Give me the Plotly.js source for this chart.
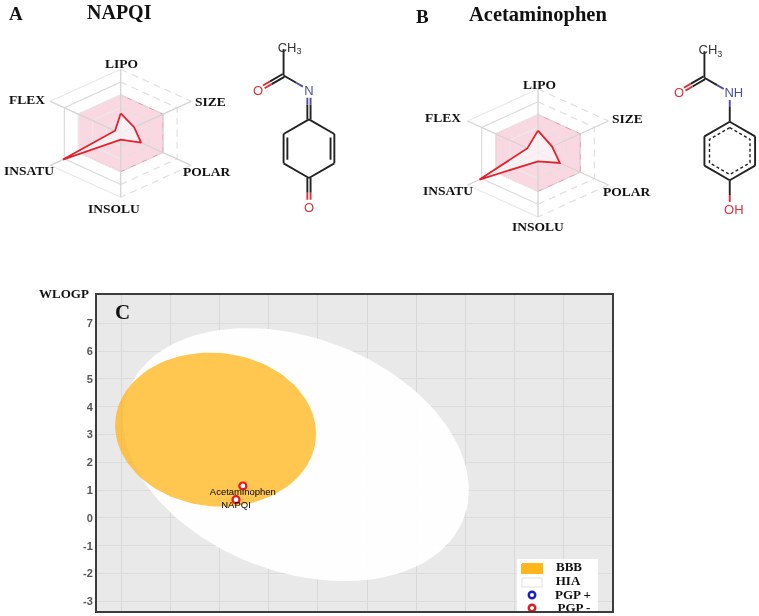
<!DOCTYPE html>
<html>
<head>
<meta charset="utf-8">
<script src="https://cdn.plot.ly/plotly-3.0.1.min.js"></script>
<style>html,body{margin:0;padding:0;background:#fff}#chart{width:759px;height:616px;filter:blur(0.45px)}</style>
</head>
<body>
<div id="chart"></div>
<script>
// ---------- data ----------
const radarAxes = ['LIPO','SIZE','POLAR','INSOLU','INSATU','FLEX'];
const napqiRadar = [0.31,0.19,0.29,0.10,0.82,0.08];
const acetaminophenRadar = [0.35,0.20,0.31,0.13,0.83,0.15];
const radarOptimal = 0.6;
const radarRings = [0.2,0.4,0.6,0.8,1];

const moleculeNames = ['NAPQI','Acetaminophen'];
const tpsa = [46.53,49.33];
const wlogp = [0.66,1.15];
const yTicks = [-3,-2,-1,0,1,2,3,4,5,6,7];
const yTickLabels = ['-3','-2','-1','0','1','2','3','4','5','6','7'];
const xGrid = [0,20,40,60,80,100,120,140,160,180];
// ellipse: centre x, centre y, half extent x, half extent y, correlation
const hiaEllipse = [71,2.28,70.6,4.55,-0.28];
const bbbEllipse = [38.2,3.18,41,2.77,-0.055];
const legendNames = ['BBB','HIA','PGP +','PGP -'];

// ---------- helpers ----------
const W = 759, H = 616;
const SERIF = 'Liberation Serif', SANS = 'Liberation Sans';
const xDom = (a,b)=>[a/W,b/W], yDom = (a,b)=>[1-b/H,1-a/H];
const traces = [], annotations = [];
function note(text,px,py,size,opt={}){
  annotations.push(Object.assign({text,x:px/W,y:1-py/H,xref:'paper',yref:'paper',showarrow:false,
    xanchor:'center',yanchor:'middle',font:{family:SERIF,size,color:'#111',weight:700}},opt));
}
function ellipse(p){
  const xs=[],ys=[],phi=Math.acos(p[4]);
  for(let i=0;i<=120;i++){const t=i/120*2*Math.PI;
    xs.push(p[0]+p[2]*Math.cos(t)); ys.push(p[1]+p[3]*Math.cos(t+phi));}
  return {xs,ys};
}
const angle = i => i*Math.PI/3;
const rx = (i,v)=>v*Math.sin(angle(i)), ry = (i,v)=>v*Math.cos(angle(i));

function radar(values,xa,ya){
  const add=(xs,ys,line,extra={})=>traces.push(Object.assign({type:'scatter',mode:'lines',x:xs,y:ys,xaxis:xa,yaxis:ya,line,hoverinfo:'skip'},extra));
  const band=[0,1,2,3,4,5,0];
  add(band.map(i=>rx(i,radarOptimal)),band.map(i=>ry(i,radarOptimal)),{color:'rgba(222,120,145,.75)',width:1},{fill:'toself',fillcolor:'rgba(238,110,145,.27)'});
  radarRings.forEach(r=>{
    const solid=[3,4,5,0], dash=[0,1,2,3];
    const soldX=[],soldY=[],dashX=[],dashY=[];
    solid.forEach((i,k)=>{ if(r===1&&k===2){soldX.push(null);soldY.push(null);} soldX.push(rx(i,r));soldY.push(ry(i,r)); });
    dash.forEach((i,k)=>{ if(r===1&&k===2){dashX.push(null);dashY.push(null);} dashX.push(rx(i,r));dashY.push(ry(i,r)); });
    add(soldX,soldY,{color:r===0.8?'#dcdcdc':'#e9e9e9',width:1.2},{connectgaps:false});
    add(dashX,dashY,{color:'#e0e0e0',width:1.2,dash:'7px,5px'},{connectgaps:false});
  });
  radarAxes.forEach((_,i)=>add([0,rx(i,1)],[0,ry(i,1)],{color:'#d4d4d4',width:1.3}));
  const loop=[0,1,2,3,4,5,0];
  add(loop.map(i=>rx(i,values[i])),loop.map(i=>ry(i,values[i])),{color:'#e5202c',width:1.8},{fill:'toself',fillcolor:'rgba(255,255,255,.62)'});
}

function molecule(atoms,bonds,dashed,xa,ya){
  const seg={ '#222222':[[],[]], '#d8323c':[[],[]], '#4d4da0':[[],[]] };
  const put=(c,p,q)=>{seg[c][0].push(p[0],q[0],null);seg[c][1].push(p[1],q[1],null);};
  bonds.forEach(b=>{
    const [a,e,ca,ce,off,ta,te]=b;
    const A=atoms[a],E=atoms[e],dx=E[0]-A[0],dy=E[1]-A[1],L=Math.hypot(dx,dy);
    const nx=-dy/L*off,ny=dx/L*off;
    const P=t=>[A[0]+dx*t+nx,A[1]+dy*t+ny];
    const s=ta||0,f=te===undefined?1:te;
    if(ca===ce) put(ca,P(s),P(f));
    else {put(ca,P(s),P(.5));put(ce,P(.5),P(f));}
  });
  Object.keys(seg).forEach(c=>traces.push({type:'scatter',mode:'lines',x:seg[c][0],y:seg[c][1],xaxis:xa,yaxis:ya,line:{color:c,width:1.9},hoverinfo:'skip'}));
  if(dashed) traces.push({type:'scatter',mode:'lines',x:dashed[0],y:dashed[1],xaxis:xa,yaxis:ya,line:{color:'#222222',width:1.4,dash:'3px,2.5px'},hoverinfo:'skip'});
}
function atomText(items,xa,ya){
  traces.push({type:'scatter',mode:'text',x:items.map(d=>d[1]),y:items.map(d=>d[2]),text:items.map(d=>d[0]),xaxis:xa,yaxis:ya,
    textposition:'middle center',textfont:{family:SANS,size:13,color:items.map(d=>d[3])},hoverinfo:'skip'});
}

// ---------- panel C ----------
const hia=ellipse(hiaEllipse), bbb=ellipse(bbbEllipse);
traces.push({type:'scatter',mode:'lines',name:'HIA',x:hia.xs,y:hia.ys,fill:'toself',fillcolor:'rgba(255,255,255,.93)',line:{width:0},hoverinfo:'skip'});
traces.push({type:'scatter',mode:'lines',name:'BBB',x:bbb.xs,y:bbb.ys,fill:'toself',fillcolor:'rgba(255,180,20,.75)',line:{width:0},hoverinfo:'skip'});
traces.push({type:'scatter',mode:'markers',name:'PGP -',x:tpsa,y:wlogp,marker:{size:7,color:'#fff',line:{color:'#e8141e',width:2.2}},cliponaxis:false,hoverinfo:'skip'});
traces.push({type:'scatter',mode:'text',x:tpsa,y:wlogp.map(v=>v-0.22),text:moleculeNames,textposition:'middle center',
  textfont:{family:SANS,size:9.5,color:'#000'},hoverinfo:'skip'});

// ---------- panels A and B radars ----------
radar(napqiRadar,'x2','y2');
radar(acetaminophenRadar,'x3','y3');

// ---------- molecules (positions in bond lengths around the ring centre) ----------
const K='#222222',R='#d8323c',N='#4d4da0';
const ring={r1:[0,1],r2:[.866,.5],r3:[.866,-.5],r4:[0,-1],r5:[-.866,-.5],r6:[-.866,.5]};
const chain={Me:[-.866,3.45],C1:[-.866,2.5],O1:[-1.732,2],N1:[0,2],O2:[0,-2]};
const atoms=Object.assign({},ring,chain);
const sideBonds=(ringExtra)=>[
  ['Me','C1',K,K,0,0.05],
  ['C1','O1',K,R,.055,0,.78],['C1','O1',K,R,-.055,0,.78],
  ['C1','N1',K,N,0,0,.76],
  ['r1','r2',K,K,0],['r2','r3',K,K,0],['r3','r4',K,K,0],['r4','r5',K,K,0],['r5','r6',K,K,0],['r6','r1',K,K,0]
].concat(ringExtra);
const bondsA=sideBonds([
  ['r1','N1',K,N,.055,0,.74],['r1','N1',K,N,-.055,0,.74],
  ['r2','r3',K,K,-.13,.12,.88],['r5','r6',K,K,-.13,.12,.88],
  ['r4','O2',K,R,.055,0,.74],['r4','O2',K,R,-.055,0,.74]
]);
const bondsB=sideBonds([
  ['r1','N1',K,N,0,0,.74],
  ['r4','O2',K,R,0,0,.74]
]);
const dashHex=[0,1,2,3,4,5,0].map(i=>[.80*Math.sin(angle(i)),.80*Math.cos(angle(i))]);
molecule(atoms,bondsA,null,'x4','y4');
molecule(atoms,bondsB,[dashHex.map(p=>p[0]),dashHex.map(p=>p[1])],'x5','y5');
atomText([['CH<sub>3</sub>',-.66,3.42,'#333'],['O',-1.732,1.95,R],['N',0,1.95,N],['O',0,-2.04,R]],'x4','y4');
atomText([['CH<sub>3</sub>',-.66,3.42,'#333'],['O',-1.732,1.95,R],['NH',.14,1.97,N],['OH',.14,-2.05,R]],'x5','y5');

// ---------- legend box, in its own small axes so the last row clips at the frame ----------
const lx='x6', ly='y6';
const box=(x0,x1,y0,y1)=>({x:[x0,x1,x1,x0,x0],y:[y0,y0,y1,y1,y0]});
traces.push(Object.assign(box(0,81,0,52),{type:'scatter',mode:'lines',xaxis:lx,yaxis:ly,fill:'toself',fillcolor:'#fff',line:{width:0},hoverinfo:'skip'}));
traces.push(Object.assign(box(5,25,5,14),{type:'scatter',mode:'lines',xaxis:lx,yaxis:ly,fill:'toself',fillcolor:'#fdb71a',line:{color:'#fdb71a',width:2},hoverinfo:'skip'}));
traces.push(Object.assign(box(5,25,19,28),{type:'scatter',mode:'lines',xaxis:lx,yaxis:ly,fill:'toself',fillcolor:'#fff',line:{color:'#eaeaea',width:1.5},hoverinfo:'skip'}));
traces.push({type:'scatter',mode:'markers',x:[15],y:[36],xaxis:lx,yaxis:ly,marker:{size:6.5,color:'#fff',line:{color:'#1a1ad0',width:2.4}},hoverinfo:'skip'});
traces.push({type:'scatter',mode:'markers',x:[15],y:[49],xaxis:lx,yaxis:ly,marker:{size:6.5,color:'#fff',line:{color:'#e8141e',width:2.4}},hoverinfo:'skip'});
traces.push({type:'scatter',mode:'text',x:[52,51,56,57],y:[8.5,22.5,37,50],text:legendNames,xaxis:lx,yaxis:ly,textposition:'middle center',
  textfont:{family:SERIF,size:13,color:'#111',weight:700},hoverinfo:'skip',cliponaxis:true});

// ---------- text ----------
note('A',16,14,19); note('NAPQI',119.5,12.5,20);
note('B',422.7,16.5,19); note('Acetaminophen',537.5,15,20.5);
note('C',122,312,21); note('WLOGP',64,293,13);
const labelsA=[[121.7,63],[210.7,101.7],[207,171],[114.3,208],[29.3,170],[27.3,99.3]];
const labelsB=[[539.3,84],[627.7,119],[627,191.7],[538.3,226.7],[447.7,190.3],[443.3,117]];
radarAxes.forEach((t,i)=>{note(t,labelsA[i][0],labelsA[i][1],13.5);note(t,labelsB[i][0],labelsB[i][1],13.5);});

// ---------- layout ----------
const hidden=(domain,range,anchor)=>({domain,range,anchor,visible:false,fixedrange:true});
const layout={
  width:W,height:H,margin:{l:0,r:0,t:0,b:0,pad:0,autoexpand:false},paper_bgcolor:'#fff',plot_bgcolor:'rgba(0,0,0,0)',
  showlegend:false,
  shapes:[{type:'rect',xref:'x domain',yref:'y domain',x0:0,x1:1,y0:0,y1:1,layer:'below',fillcolor:'#e9e9e9',line:{width:0}}],
  xaxis:{domain:xDom(97,612),range:[-10.2,200],tickmode:'array',tickvals:xGrid,showticklabels:false,ticks:'',
    showgrid:true,gridcolor:'#d8d8d8',gridwidth:1,zeroline:false,showline:true,mirror:true,linecolor:'#3c3c3c',linewidth:2,anchor:'y'},
  yaxis:{domain:yDom(295,611),range:[-3.345,8.02],tickmode:'array',tickvals:yTicks,ticktext:yTickLabels,ticks:'',
    tickfont:{family:SANS,size:11,color:'#555',weight:700},showgrid:true,gridcolor:'#dcdcdc',gridwidth:1,zeroline:false,
    showline:true,mirror:true,linecolor:'#3c3c3c',linewidth:2,anchor:'x'},
  // radars: x unit 81.4 px, y unit 64 px
  xaxis2:hidden(xDom(120.7-89.5,120.7+89.5),[-1.1,1.1],'y2'),
  yaxis2:hidden(yDom(133.3-70.4,133.3+70.4),[-1.1,1.1],'x2'),
  xaxis3:hidden(xDom(538-89.5,538+89.5),[-1.1,1.1],'y3'),
  yaxis3:hidden(yDom(153-70.4,153+70.4),[-1.1,1.1],'x3'),
  // molecules: 1 bond length is 29.3 px
  xaxis4:hidden(xDom(309-88,309+58.6),[-3,2],'y4'),
  yaxis4:hidden(yDom(148.7-117.2,148.7+73.25),[-2.5,4],'x4'),
  xaxis5:hidden(xDom(730-88,730+29.3),[-3,1],'y5'),
  yaxis5:hidden(yDom(151-117.2,151+73.25),[-2.5,4],'x5'),
  xaxis6:hidden(xDom(517,598),[0,81],'y6'),
  yaxis6:hidden(yDom(559,611),[52,0],'x6'),
  annotations,
  hovermode:false,dragmode:false
};
Plotly.newPlot('chart',traces,layout,{displayModeBar:false,staticPlot:true});
</script>
</body>
</html>
